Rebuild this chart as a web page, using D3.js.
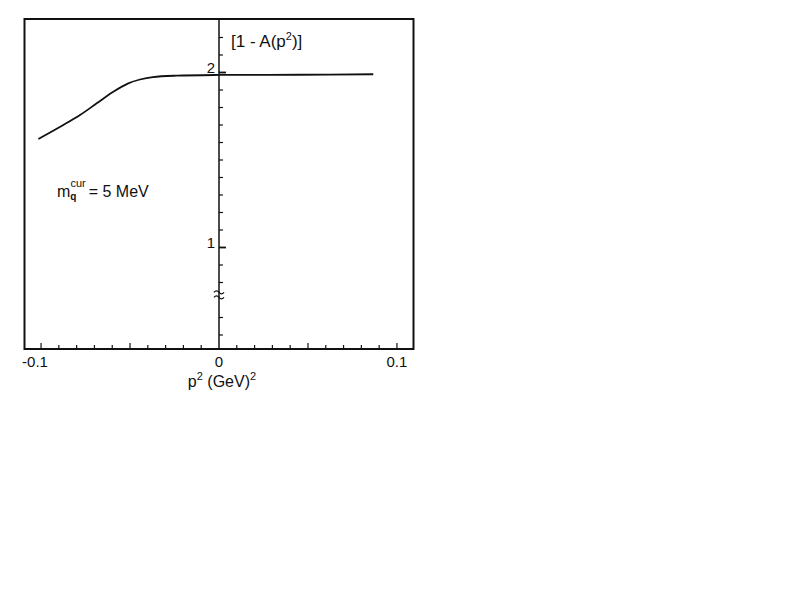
<!DOCTYPE html>
<html>
<head>
<meta charset="utf-8">
<script src="https://cdn.jsdelivr.net/npm/d3@7"></script>
<style>
  html, body { margin: 0; padding: 0; background: #fff; }
  svg { display: block; }
  text { font-family: "Liberation Sans", Arial, Helvetica, sans-serif; fill: #111; }
</style>
</head>
<body>
<svg id="chart" width="795" height="614"></svg>
<script>
// ---- data ----
const pSquared = [-0.1015, -0.0875, -0.0781, -0.0687, -0.0594, -0.0510, -0.0444, -0.0371, -0.0238, 0.0, 0.0455, 0.0867];
const oneMinusA = [1.620, 1.700, 1.757, 1.824, 1.890, 1.938, 1.960, 1.974, 1.982, 1.986, 1.987, 1.990];

const xTickValues = [-0.10, -0.09, -0.08, -0.07, -0.06, -0.05, -0.04, -0.03, -0.02, -0.01, 0.01, 0.02, 0.03, 0.04, 0.05, 0.06, 0.07, 0.08, 0.09, 0.10];
const xMajorTicks = [-0.10, -0.05, 0.05, 0.10];
const xTickLabels = ["-0.1", "0", "0.1"];
const xLabelValues = [-0.1, 0, 0.1];

const yTickValues = [0.5, 0.6, 0.8, 0.9, 1.0, 1.1, 1.2, 1.3, 1.4, 1.5, 1.6, 1.7, 1.8, 1.9, 2.0, 2.1, 2.2];
const yMajorTicks = [1.0, 2.0];
const yTickLabels = ["1", "2"];
const yBreakValue = 0.735;

// ---- layout ----
const mLeft = 24.5, mRight = 413.5, mTop = 19, mBottom = 349;
const svg = d3.select("#chart");

const x = d3.scaleLinear().domain([-0.1093, 0.1093]).range([mLeft, mRight]);
const y = d3.scaleLinear().domain([0.4200, 2.3057]).range([mBottom, mTop]);

// frame
svg.append("rect")
  .attr("x", mLeft).attr("y", mTop)
  .attr("width", mRight - mLeft).attr("height", mBottom - mTop)
  .attr("fill", "none").attr("stroke", "#111").attr("stroke-width", 2);

// vertical axis at p^2 = 0
svg.append("line")
  .attr("x1", x(0)).attr("x2", x(0))
  .attr("y1", mTop).attr("y2", mBottom)
  .attr("stroke", "#111").attr("stroke-width", 1.5);

// y ticks (to the right of the axis)
svg.append("g").selectAll("line").data(yTickValues).join("line")
  .attr("x1", x(0)).attr("x2", d => x(0) + (yMajorTicks.includes(d) ? 7 : 4))
  .attr("y1", d => y(d)).attr("y2", d => y(d))
  .attr("stroke", "#111").attr("stroke-width", d => yMajorTicks.includes(d) ? 1.8 : 1.2);

// y labels
svg.append("g").selectAll("text").data(yMajorTicks).join("text")
  .attr("x", x(0) - 4).attr("y", d => y(d) + 1)
  .attr("text-anchor", "end")
  .attr("font-size", 15)
  .text((d, i) => yTickLabels[i]);

// axis break symbol
const by = y(yBreakValue);
[-2.5, 2.5].forEach(off => {
  svg.append("path")
    .attr("d", `M${x(0) - 5},${by + off + 1} q2.5,-3 5,0 t5,0`)
    .attr("fill", "none").attr("stroke", "#111").attr("stroke-width", 1.3);
});

// x ticks (upward from bottom frame)
svg.append("g").selectAll("line").data(xTickValues).join("line")
  .attr("x1", d => x(d)).attr("x2", d => x(d))
  .attr("y1", mBottom).attr("y2", d => mBottom - (xMajorTicks.some(m => Math.abs(m - d) < 1e-9) ? 6 : 4))
  .attr("stroke", "#111").attr("stroke-width", 1.2);

// x labels
svg.append("g").selectAll("text").data(xLabelValues).join("text")
  .attr("x", d => x(d) - (d < 0 ? 6 : 0)).attr("y", 367)
  .attr("text-anchor", "middle")
  .attr("font-size", 15)
  .text((d, i) => xTickLabels[i]);

// x axis title: p² (GeV)²
const xt = svg.append("text")
  .attr("x", x(0) + 3).attr("y", 387)
  .attr("text-anchor", "middle")
  .attr("font-size", 16);
xt.append("tspan").text("p");
xt.append("tspan").attr("dy", -7).attr("font-size", 11).text("2");
xt.append("tspan").attr("dy", 7).text(" (GeV)");
xt.append("tspan").attr("dy", -7).attr("font-size", 11).text("2");

// y title: [1 - A(p²)]
const yt = svg.append("text")
  .attr("x", 231).attr("y", 47)
  .attr("font-size", 17);
yt.append("tspan").text("[1 - A(p");
yt.append("tspan").attr("dy", -7).attr("font-size", 11).text("2");
yt.append("tspan").attr("dy", 7).text(")]");

// annotation: m_q^cur = 5 MeV
const ann = svg.append("text")
  .attr("x", 57).attr("y", 197)
  .attr("font-size", 16);
ann.append("tspan").text("m");
ann.append("tspan").attr("dy", 3).attr("font-size", 10).attr("font-weight", "bold").text("q");
ann.append("tspan").attr("dx", -6).attr("dy", -13).attr("font-size", 11).text("cur");
ann.append("tspan").attr("dx", 3).attr("dy", 10).text("= 5 MeV");

// curve
const pts = pSquared.map((p, i) => [p, oneMinusA[i]]);
svg.append("path")
  .datum(pts)
  .attr("d", d3.line().x(d => x(d[0])).y(d => y(d[1])).curve(d3.curveCatmullRom.alpha(0.5)))
  .attr("fill", "none").attr("stroke", "#111").attr("stroke-width", 1.8);
</script>
</body>
</html>
